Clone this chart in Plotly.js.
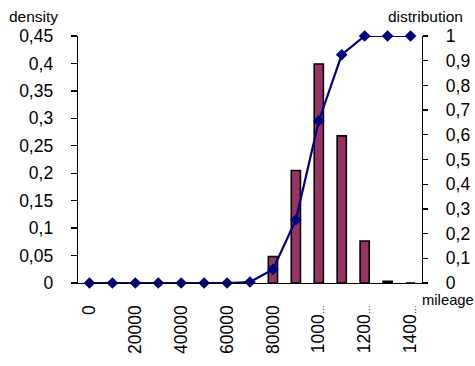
<!DOCTYPE html>
<html>
<head>
<meta charset="utf-8">
<script src="https://cdn.plot.ly/plotly-3.0.1.min.js"></script>
<style>html,body{margin:0;padding:0;background:#fff;}#chart{width:475px;height:366px;}</style>
</head>
<body>
<div id="chart"></div>
<script>
const mileage = [0,10000,20000,30000,40000,50000,60000,70000,80000,90000,100000,110000,120000,130000,140000];
const density = [0,0,0,0,0,0,0,0,0.048,0.205,0.399,0.268,0.0765,0.003,0];
const distribution = [0,0,0,0,0,0,0,0.004,0.055,0.256,0.656,0.924,1,1,1];
const labelVals = [0,20000,40000,60000,80000,100000,120000,140000];
const labelText = ['0','20000','40000','60000','80000',
  '1000<span style="font-size:9px">…</span>',
  '1200<span style="font-size:9px">…</span>',
  '1400<span style="font-size:9px">…</span>'];
const boundaries = mileage.map(v => v - 5000).concat([mileage[mileage.length-1] + 5000]);
const xRange = [boundaries[0], boundaries[boundaries.length-1]];

const font = {family: 'Liberation Sans, Arial, sans-serif', size: 17.5, color: '#000'};
const titleFont = {family: 'Liberation Sans, Arial, sans-serif', size: 15.5, color: '#000'};
const axisTitleFont = {family: 'Liberation Sans, Arial, sans-serif', size: 14.8, color: '#000'};

const traces = [
  {type: 'bar', x: mileage, y: density, xaxis: 'x', yaxis: 'y',
   marker: {color: '#993366', line: {color: '#000', width: 1.6}}, hoverinfo: 'none'},
  {type: 'scatter', mode: 'lines+markers', x: mileage, y: distribution, xaxis: 'x', yaxis: 'y2',
   line: {color: '#000080', width: 2.2}, marker: {symbol: 'diamond', size: 9, color: '#000080'},
   cliponaxis: false, hoverinfo: 'none'}
];

const baseX = {range: xRange, showgrid: false, zeroline: false, fixedrange: true};
const layout = {
  width: 475, height: 366,
  margin: {l: 78, r: 53, t: 36, b: 83},
  paper_bgcolor: '#fff', plot_bgcolor: '#fff',
  separators: ', ',
  font: font,
  showlegend: false,
  bargap: 0.6,
  xaxis: Object.assign({}, baseX, {type: 'linear', tickmode: 'array', tickvals: labelVals, ticktext: labelText,
    tickangle: -90, ticks: '', ticklabelstandoff: 14, showline: true, linecolor: '#000', linewidth: 1.3, tickfont: font}),
  xaxis2: Object.assign({}, baseX, {overlaying: 'x', side: 'bottom', tickmode: 'array', tickvals: boundaries,
    ticks: 'outside', ticklen: 7, tickwidth: 1.3, tickcolor: '#000', showticklabels: false, showline: false}),
  xaxis3: Object.assign({}, baseX, {overlaying: 'x', side: 'bottom', tickmode: 'array', tickvals: boundaries,
    ticks: 'inside', ticklen: 6, tickwidth: 1.3, tickcolor: '#000', showticklabels: false, showline: false}),
  xaxis4: Object.assign({}, baseX, {overlaying: 'x', side: 'top', showticklabels: false, ticks: '',
    showline: true, linecolor: '#808080', linewidth: 1.5}),
  yaxis: {range: [0, 0.45], dtick: 0.05, tick0: 0, showgrid: false, zeroline: false, showline: true,
    linecolor: '#000', linewidth: 1.3, ticks: 'outside', ticklen: 6, tickwidth: 1.3, tickcolor: '#000',
    ticklabelstandoff: 14, tickfont: font, fixedrange: true},
  yaxis3: {overlaying: 'y', side: 'left', range: [0, 0.45], dtick: 0.05, tick0: 0, showgrid: false, zeroline: false,
    showline: false, ticks: 'inside', ticklen: 5, tickwidth: 1.3, tickcolor: '#000', showticklabels: false, fixedrange: true},
  yaxis2: {overlaying: 'y', side: 'right', range: [0, 1], dtick: 0.1, tick0: 0, showgrid: false, zeroline: false,
    showline: true, linecolor: '#000', linewidth: 1.3, ticks: 'outside', ticklen: 5, tickwidth: 1.3, tickcolor: '#000',
    ticklabelstandoff: 14, tickfont: font, fixedrange: true},
  yaxis4: {overlaying: 'y', side: 'right', range: [0, 1], dtick: 0.1, tick0: 0, showgrid: false, zeroline: false,
    showline: false, ticks: 'inside', ticklen: 5, tickwidth: 1.3, tickcolor: '#000', showticklabels: false, fixedrange: true},
  annotations: [
    {text: 'density', xref: 'paper', yref: 'paper', x: -0.205, y: 1.035, xanchor: 'left', yanchor: 'bottom',
     showarrow: false, font: titleFont},
    {text: 'distribution', xref: 'paper', yref: 'paper', x: 1.125, y: 1.035, xanchor: 'right', yanchor: 'bottom',
     showarrow: false, font: titleFont},
    {text: 'mileage', xref: 'paper', yref: 'paper', x: 0.994, y: -0.03, xanchor: 'left', yanchor: 'top',
     showarrow: false, font: axisTitleFont}
  ]
};

Plotly.newPlot('chart', traces, layout, {displayModeBar: false, staticPlot: true});
</script>
</body>
</html>
